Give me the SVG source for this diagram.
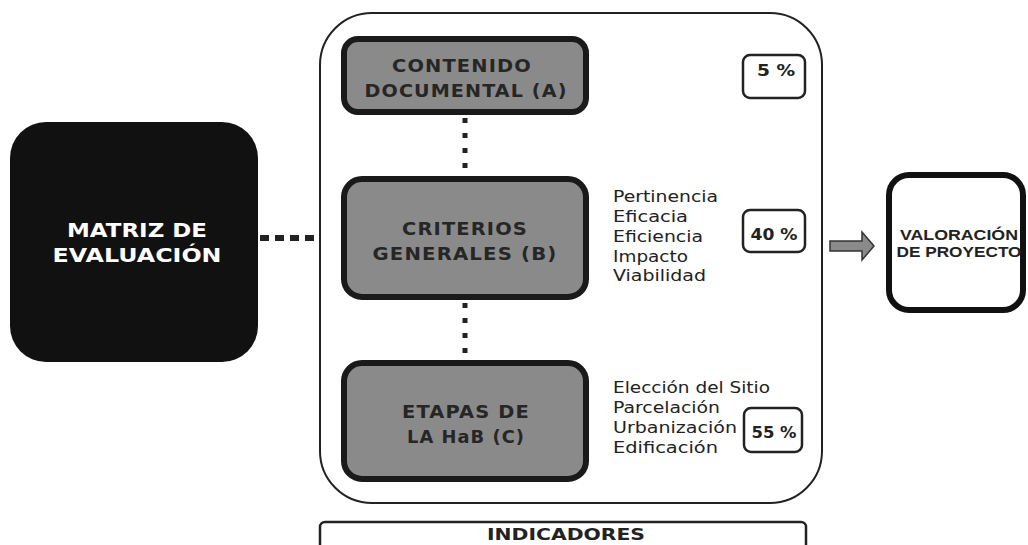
<svg xmlns="http://www.w3.org/2000/svg" width="1028" height="545" viewBox="0 0 1028 545">
<defs>
<style>
.gbox{fill:#8a8a8a;stroke:#1a1a1a;stroke-width:6}
.gtxt{font-family:"DejaVu Sans","Liberation Sans",Arial,sans-serif;font-weight:bold;font-size:17px;fill:#262626;text-anchor:middle;letter-spacing:1px}
.list{font-family:"DejaVu Sans","Liberation Sans",Arial,sans-serif;font-size:15.5px;fill:#222}
.pbox{fill:#fff;stroke:#222;stroke-width:2.5}
.ptxt{font-family:"DejaVu Sans","Liberation Sans",Arial,sans-serif;font-weight:bold;font-size:16px;fill:#222;text-anchor:middle}
.dot{stroke:#222;fill:none}
</style>
</defs>
<rect width="1028" height="545" fill="#fff"/>
<g id="connectors">
<line class="dot" x1="260" y1="238" x2="318" y2="238" stroke-width="6" stroke-dasharray="9 6"/>
<line class="dot" x1="465" y1="118" x2="465" y2="176" stroke-width="5" stroke-dasharray="5 10"/>
<line class="dot" x1="465" y1="303" x2="465" y2="361" stroke-width="5" stroke-dasharray="5 10"/>
<path d="M830 241 H862 V232 L874 246 L862 260 V251 H830 Z" fill="#8a8a8a" stroke="#333" stroke-width="1.5"/>
</g>
<g id="matriz">
<rect x="10" y="122" width="248" height="240" rx="36" fill="#111"/>
<text x="137" y="237" font-family="DejaVu Sans,Liberation Sans,Arial,sans-serif" font-weight="bold" font-size="19" fill="#fff" text-anchor="middle" textLength="140" lengthAdjust="spacingAndGlyphs">MATRIZ DE</text>
<text x="137" y="262" font-family="DejaVu Sans,Liberation Sans,Arial,sans-serif" font-weight="bold" font-size="19" fill="#fff" text-anchor="middle" textLength="169" lengthAdjust="spacingAndGlyphs">EVALUACIÓN</text>
</g>
<g id="container">
<rect x="320" y="13" width="502" height="490" rx="52" fill="none" stroke="#222" stroke-width="2"/>
</g>
<g id="boxA">
<rect class="gbox" x="344" y="39" width="242" height="73" rx="14"/>
<text class="gtxt" x="462" y="72" textLength="140" lengthAdjust="spacingAndGlyphs">CONTENIDO</text>
<text class="gtxt" x="466" y="97" textLength="203" lengthAdjust="spacingAndGlyphs">DOCUMENTAL (A)</text>
</g>
<g id="boxB">
<rect class="gbox" x="344" y="179" width="242" height="118" rx="18"/>
<text class="gtxt" x="465" y="235" textLength="126" lengthAdjust="spacingAndGlyphs">CRITERIOS</text>
<text class="gtxt" x="465" y="260" textLength="185" lengthAdjust="spacingAndGlyphs">GENERALES (B)</text>
</g>
<g id="boxC">
<rect class="gbox" x="344" y="363" width="242" height="116" rx="18"/>
<text class="gtxt" x="466" y="418" textLength="128" lengthAdjust="spacingAndGlyphs">ETAPAS DE</text>
<text class="gtxt" x="466" y="443" textLength="118" lengthAdjust="spacingAndGlyphs">LA HaB (C)</text>
</g>
<g id="listB">
<text class="list" x="613" y="202" textLength="105" lengthAdjust="spacingAndGlyphs">Pertinencia</text>
<text class="list" x="613" y="222" textLength="75" lengthAdjust="spacingAndGlyphs">Eficacia</text>
<text class="list" x="613" y="242" textLength="90" lengthAdjust="spacingAndGlyphs">Eficiencia</text>
<text class="list" x="613" y="262" textLength="75" lengthAdjust="spacingAndGlyphs">Impacto</text>
<text class="list" x="613" y="281" textLength="93" lengthAdjust="spacingAndGlyphs">Viabilidad</text>
</g>
<g id="listC">
<text class="list" x="613" y="393" textLength="157" lengthAdjust="spacingAndGlyphs">Elección del Sitio</text>
<text class="list" x="613" y="413" textLength="107" lengthAdjust="spacingAndGlyphs">Parcelación</text>
<text class="list" x="613" y="433" textLength="124" lengthAdjust="spacingAndGlyphs">Urbanización</text>
<text class="list" x="613" y="453" textLength="105" lengthAdjust="spacingAndGlyphs">Edificación</text>
</g>
<g id="pctA">
<rect class="pbox" x="743" y="55" width="62" height="43" rx="7"/>
<text class="ptxt" x="776" y="76" textLength="38" lengthAdjust="spacingAndGlyphs">5 %</text>
</g>
<g id="pctB">
<rect class="pbox" x="743" y="210" width="62" height="42" rx="7"/>
<text class="ptxt" x="774" y="240" font-family="Liberation Serif,Times New Roman,serif" font-size="18" textLength="47" lengthAdjust="spacingAndGlyphs">40 %</text>
</g>
<g id="pctC">
<rect class="pbox" x="744" y="408" width="58" height="44" rx="7"/>
<text class="ptxt" x="774" y="438" font-size="18" textLength="45" lengthAdjust="spacingAndGlyphs">55 %</text>
</g>
<g id="indicadores">
<rect x="320" y="522" width="486" height="40" rx="5" fill="#fff" stroke="#222" stroke-width="2.5"/>
<text x="566" y="540" font-family="DejaVu Sans,Liberation Sans,Arial,sans-serif" font-weight="bold" font-size="16" fill="#222" text-anchor="middle" textLength="158" lengthAdjust="spacingAndGlyphs">INDICADORES</text>
</g>
<g id="valoracion">
<rect x="889" y="175" width="134" height="135" rx="20" fill="#fff" stroke="#111" stroke-width="6"/>
<text x="959" y="240" font-family="Liberation Sans,Arial,sans-serif" font-weight="bold" font-size="15" fill="#222" text-anchor="middle" textLength="118" lengthAdjust="spacingAndGlyphs">VALORACIÓN</text>
<text x="959" y="257" font-family="Liberation Sans,Arial,sans-serif" font-weight="bold" font-size="15" fill="#222" text-anchor="middle" textLength="125" lengthAdjust="spacingAndGlyphs">DE PROYECTO</text>
</g>
</svg>
